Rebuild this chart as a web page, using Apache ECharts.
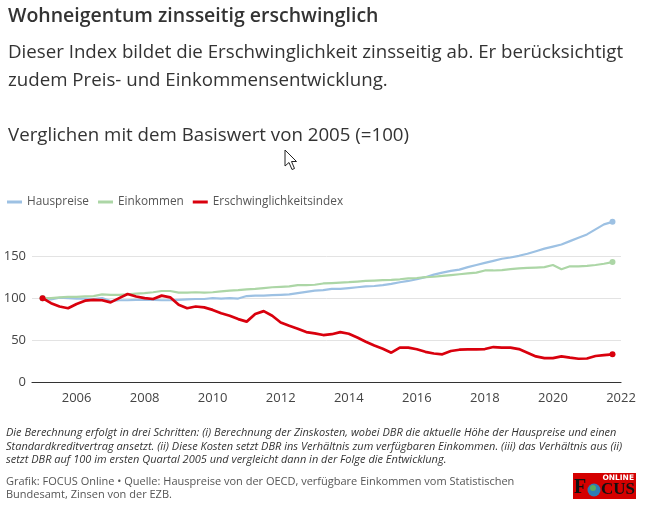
<!DOCTYPE html>
<html>
<head>
<meta charset="utf-8">
<script src="https://cdn.jsdelivr.net/npm/echarts@6/dist/echarts.min.js"></script>
<style>
html,body{margin:0;padding:0;background:#fff;}
#chart{width:658px;height:512px;}
</style>
</head>
<body>
<div id="chart"></div>
<script>
// Quarterly data, 2005 Q1 .. 2021 Q4 (x = year + (quarter-1)/4)
const startYear = 2005;
const hauspreise = [100,98.5,100.5,100,99.5,99.5,99,100,96.5,97.5,97.5,98,98,98,97.5,97.5,
  98,98.5,99,99,100,99.5,100,99.5,102.5,103,103,103.5,104,104.5,106,107.5,109,109.5,
  111,111,112,113,114,114.5,115.5,117,119,120.5,122.5,125,128,130.5,132.5,134,137,139.5,
  142,144.5,147,148.5,150.5,153,156,159,161.5,164,168,172,176,182,188,191];
const einkommen = [100,100,101,101.5,101.5,102,102.5,104.5,104,104,104.5,105.5,106,107,108.5,108.5,
  106.5,106.5,107,106.5,107,108,109,109.5,110.5,111,112,113,113.5,114,115.5,115.5,116,117.5,
  118,118.5,119,119.8,120.5,121,121.5,121.8,122.5,123.5,124,125,125.5,126.5,127.5,128.5,129.5,130.5,
  133,133,133.5,134.5,135.5,136,136.5,137,139.5,134.5,138,138,138.5,139.5,141,143];
const erschwinglichkeit = [100,94,90,88,93,97,98,97.5,95,100,105,102,100,99,103,101,
  92,88,90,89,86,82,79,75,72,81,84.5,79,71,67,63.5,59.5,58,56,
  57,59.5,57.5,53,48,43.5,39.6,35,41,41,39,36,34,33,37,38.5,39,39,
  39.3,41.7,41,41,39.3,35,30.5,28.5,28.5,30.5,29,27.7,28,31,32,33];
const yTicks = [0,50,100,150];
const xLabelYears = [2006,2008,2010,2012,2014,2016,2018,2020,2022];

function toPairs(arr){ return arr.map((v,i)=>[startYear + i/4, v]); }
function endSym(len){ return function(v,p){ return (p.dataIndex===0||p.dataIndex===len-1)?6:0; }; }

const chart = echarts.init(document.getElementById('chart'), null, {renderer:'canvas'});
const FONT = '"Open Sans", "Noto Sans", sans-serif';

const option = {
  animation:false,
  backgroundColor:'#fff',
  textStyle:{fontFamily:FONT},
  legend:{
    left:2, top:191,
    icon:'rect', itemWidth:15, itemHeight:3, itemGap:9,
    textStyle:{color:'#555', fontSize:11.8, fontFamily:FONT},
    data:['Hauspreise','Einkommen','Erschwinglichkeitsindex']
  },
  grid:{left:32, right:37, top:221, bottom:130, containLabel:false},
  xAxis:{
    type:'value', min:2004.69, max:2022, splitNumber:9,
    axisLine:{show:true, lineStyle:{color:'#333', width:1.2}},
    axisTick:{show:false},
    splitLine:{show:false},
    axisLabel:{
      color:'#444', fontSize:13, margin:10, showMinLabel:false, fontFamily:FONT,
      formatter:function(v){ return xLabelYears.indexOf(Math.round(v*100)/100)>=0 ? String(v) : ''; }
    }
  },
  yAxis:{
    type:'value', min:0, max:192, splitNumber:4,
    axisLine:{show:false}, axisTick:{show:false},
    splitLine:{show:true, showMaxLine:false, lineStyle:{color:'#e3e3e3', width:1}},
    axisLabel:{
      color:'#444', fontSize:13, margin:6, showMaxLabel:false, fontFamily:FONT,
      formatter:function(v){ return yTicks.indexOf(v)>=0 ? String(v) : ''; }
    }
  },
  series:[
    {name:'Hauspreise', type:'line', data:toPairs(hauspreise), color:'#9dc1e3',
     lineStyle:{width:2.2, color:'#9dc1e3'}, symbol:'circle', symbolSize:endSym(hauspreise.length),
     showSymbol:true, showAllSymbol:true, itemStyle:{color:'#9dc1e3'}, z:2},
    {name:'Einkommen', type:'line', data:toPairs(einkommen), color:'#acd6a6',
     lineStyle:{width:2.2, color:'#acd6a6'}, symbol:'circle', symbolSize:endSym(einkommen.length),
     showSymbol:true, showAllSymbol:true, itemStyle:{color:'#acd6a6'}, z:2},
    {name:'Erschwinglichkeitsindex', type:'line', data:toPairs(erschwinglichkeit), color:'#d9000d',
     lineStyle:{width:2.7, color:'#d9000d'}, symbol:'circle', symbolSize:endSym(erschwinglichkeit.length),
     showSymbol:true, showAllSymbol:true, itemStyle:{color:'#d9000d'}, z:3}
  ],
  graphic:[
    {type:'text', x:8, y:16, style:{text:'Wohneigentum zinsseitig erschwinglich', fill:'#333', font:'600 19.5px '+FONT, verticalAlign:'middle'}},
    {type:'text', x:8, y:53, style:{text:'Dieser Index bildet die Erschwinglichkeit zinsseitig ab. Er berücksichtigt', fill:'#333', font:'400 18.7px '+FONT, verticalAlign:'middle'}},
    {type:'text', x:8, y:81, style:{text:'zudem Preis- und Einkommensentwicklung.', fill:'#333', font:'400 18.7px '+FONT, verticalAlign:'middle'}},
    {type:'text', x:8, y:136, style:{text:'Verglichen mit dem Basiswert von 2005 (=100)', fill:'#333', font:'400 18.7px '+FONT, verticalAlign:'middle'}},
    {type:'text', x:6, y:433, style:{text:'Die Berechnung erfolgt in drei Schritten: (i) Berechnung der Zinskosten, wobei DBR die aktuelle Höhe der Hauspreise und einen', fill:'#333', font:'italic 400 11px '+FONT, verticalAlign:'middle'}},
    {type:'text', x:6, y:446.5, style:{text:'Standardkreditvertrag ansetzt. (ii) Diese Kosten setzt DBR ins Verhältnis zum verfügbaren Einkommen. (iii) das Verhältnis aus (ii)', fill:'#333', font:'italic 400 11px '+FONT, verticalAlign:'middle'}},
    {type:'text', x:6, y:460, style:{text:'setzt DBR auf 100 im ersten Quartal 2005 und vergleicht dann in der Folge die Entwicklung.', fill:'#333', font:'italic 400 11px '+FONT, verticalAlign:'middle'}},
    {type:'text', x:6, y:481.5, style:{text:'Grafik: FOCUS Online • Quelle: Hauspreise von der OECD, verfügbare Einkommen vom Statistischen', fill:'#555', font:'400 11px '+FONT, verticalAlign:'middle'}},
    {type:'text', x:6, y:495, style:{text:'Bundesamt, Zinsen von der EZB.', fill:'#555', font:'400 11px '+FONT, verticalAlign:'middle'}},
    // FOCUS Online logo
    {type:'rect', shape:{x:573, y:473, width:63, height:26}, style:{fill:'#d40000'}},
    {type:'text', x:634, y:474, style:{text:'ONLINE', fill:'#fff', font:'bold 7.5px "DejaVu Sans", sans-serif', align:'right', verticalAlign:'top'}},
    {type:'text', x:574, y:498, style:{text:'F', fill:'#111', font:'bold 20px "Liberation Serif", serif', verticalAlign:'bottom'}},
    {type:'circle', shape:{cx:594, cy:490, r:6.5}, style:{fill:'#2d7db5'}},
    {type:'circle', shape:{cx:593, cy:488, r:3}, style:{fill:'#5caa5c'}},
    {type:'text', x:601, y:498, style:{text:'CUS', fill:'#111', font:'bold 17px "Liberation Serif", serif', verticalAlign:'bottom'}},
    // mouse cursor
    {type:'polygon', shape:{points:[[285,150],[285,166],[289,162.5],[292,169.5],[294.5,168.5],[291.5,161.5],[296.5,161.5]]},
     style:{fill:'#fff', stroke:'#222', lineWidth:1}}
  ]
};
chart.setOption(option);
</script>
</body>
</html>
